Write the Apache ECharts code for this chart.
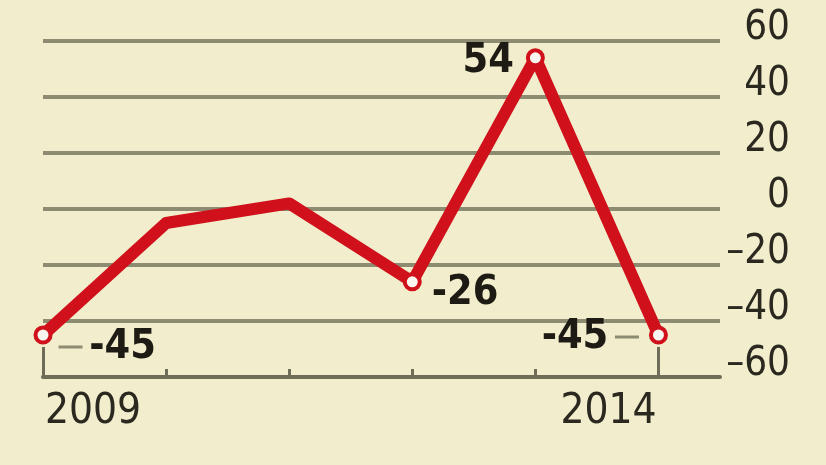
<!DOCTYPE html>
<html>
<head>
<meta charset="utf-8">
<script src="https://cdn.jsdelivr.net/npm/echarts@6/dist/echarts.min.js"></script>
<style>
  html, body { margin: 0; padding: 0; background: #f2edcd; }
  #main { width: 826px; height: 465px; }
</style>
</head>
<body>
<div id="main"></div>
<script>
var years = [2009, 2010, 2011, 2012, 2013, 2014];
var values = [-45, -5, 2, -26, 54, -45];
var marked = [true, false, false, true, true, true];
var yearLabels = [2009, 2014];
var yTicks = [-60, -40, -20, 0, 20, 40, 60];

var chart = echarts.init(document.getElementById('main'));

var gridColor = '#8e8b73';
var red = '#d0101a';
var fontName = '"Liberation Sans Narrow", "DejaVu Sans Condensed", sans-serif';

// label placement per marked point
var labelCfg = {
	0: { position: 'right', offset: [-4, 12], formatter: '{ln|}  {v|{c}}' },
	3: { position: 'right', offset: [0, 12], formatter: '{v|{c}}' },
	4: { position: 'left', offset: [-2, 4], formatter: '{v|{c}}' },
	5: { position: 'left', offset: [0, 2], formatter: '{v|{c}}  {ln|}' }
};

var seriesData = years.map(function (y, i) {
	var item = { value: [y, values[i]] };
	if (!marked[i]) {
		item.symbol = 'none';
	} else {
		var c = labelCfg[i];
		item.label = {
			show: true,
			position: c.position,
			offset: c.offset,
			distance: 10,
			formatter: c.formatter.replace('{c}', values[i]),
			rich: {
				v: { fontFamily: fontName, fontWeight: 'bold', fontSize: 41, color: '#1d1b14' },
				ln: { width: 24, height: 3, backgroundColor: '#8e8b73' }
			}
		};
	}
	return item;
});

var option = {
	backgroundColor: '#f2edcd',
	animation: false,
	grid: { left: 43, right: 106, top: 41, bottom: 88 },
	xAxis: [{
		type: 'value',
		min: 2009,
		max: 2014.5,
		interval: 1,
		splitLine: { show: false },
		axisLine: { show: true, onZero: false, lineStyle: { color: '#6f6c57', width: 4 } },
		axisTick: {
			show: true, inside: true, length: 8,
			customValues: years,
			lineStyle: { color: '#6f6c57', width: 3 }
		},
		axisLabel: {
			customValues: yearLabels,
			margin: 14,
			formatter: function (v) {
				return v === 2009 ? '{l|' + v + '}' : '{r|' + v + '}';
			},
			rich: {
				l: { fontFamily: fontName, fontSize: 42, color: '#2a281f', padding: [0, 0, 0, 100] },
				r: { fontFamily: fontName, fontSize: 42, color: '#2a281f', padding: [0, 100, 0, 0] }
			}
		}
	}, {
		type: 'value',
		min: 2009,
		max: 2014.5,
		position: 'bottom',
		axisLine: { show: false, onZero: false },
		splitLine: { show: false },
		axisTick: {
			show: true, inside: true, length: 30,
			customValues: yearLabels,
			lineStyle: { color: '#6f6c57', width: 3 }
		},
		axisLabel: { show: false }
	}],
	yAxis: {
		type: 'value',
		position: 'right',
		min: -60,
		max: 60,
		interval: 20,
		axisLine: { show: false },
		axisTick: { show: false },
		splitLine: { show: true, lineStyle: { color: gridColor, width: 4 } },
		axisLabel: {
			align: 'right',
			verticalAlign: 'bottom',
			lineHeight: 24,
			margin: 70,
			fontFamily: fontName,
			fontSize: 40,
			color: '#2a281f',
			formatter: function (v) { return v < 0 ? '\u2013' + Math.abs(v) : '' + v; }
		}
	},
	series: [{
		type: 'line',
		xAxisIndex: 0,
		data: seriesData,
		symbol: 'circle',
		symbolSize: 15,
		lineStyle: { color: red, width: 12, join: 'round', cap: 'round' },
		itemStyle: { color: '#fbf6ef', borderColor: red, borderWidth: 4 },
		z: 5
	}]
};

chart.setOption(option);
</script>
</body>
</html>
